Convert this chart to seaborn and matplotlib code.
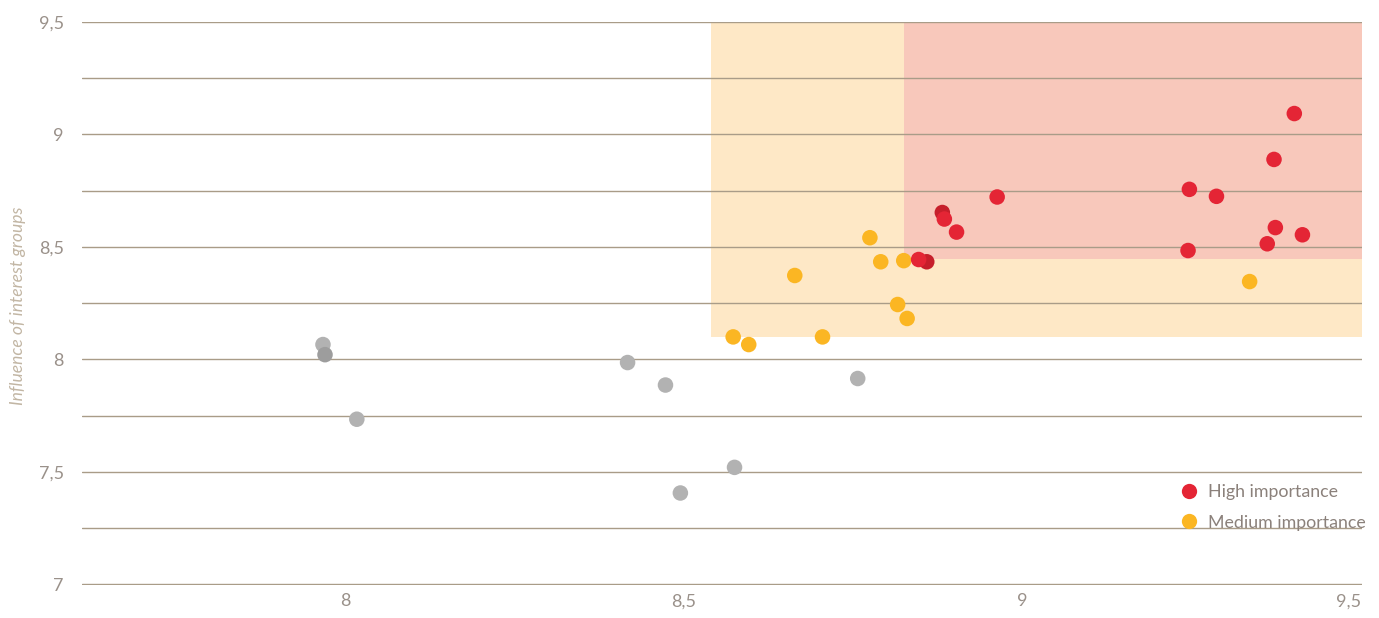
import matplotlib
matplotlib.use("Agg")
import matplotlib.pyplot as plt
from matplotlib.patches import Rectangle
from matplotlib.lines import Line2D
from matplotlib.ticker import FixedLocator, MultipleLocator, FuncFormatter
import pandas as pd
import seaborn as sns

# ---- data -------------------------------------------------------------
# Low importance (grey); the "dark" flag marks points drawn in a deeper tone
low_x = [7.967, 8.017, 8.417, 8.473, 8.495, 8.575, 8.757, 7.970]
low_y = [8.066, 7.734, 7.986, 7.886, 7.406, 7.520, 7.915, 8.021]
low_dark = [0, 0, 0, 0, 0, 0, 0, 1]

medium_x = [8.573, 8.596, 8.664, 8.705, 8.775, 8.791, 8.816, 8.825, 8.830, 9.336]
medium_y = [8.100, 8.066, 8.373, 8.100, 8.541, 8.434, 8.244, 8.439, 8.182, 8.346]
medium_dark = [0] * 10

high_x = [8.882, 8.859, 8.847, 8.885, 8.903, 8.963, 9.245, 9.247,
          9.287, 9.362, 9.372, 9.374, 9.402, 9.414]
high_y = [8.653, 8.434, 8.444, 8.624, 8.566, 8.722, 8.484, 8.756,
          8.725, 8.514, 8.889, 8.586, 9.093, 8.554]
high_dark = [1, 1, 0, 0, 0, 0, 0, 0, 0, 0, 0, 0, 0, 0]

# importance thresholds (x, y) for the shaded zones
MEDIUM_X, MEDIUM_Y = 8.54, 8.10
HIGH_X, HIGH_Y = 8.825, 8.447

X_MIN, X_MAX = 7.611, 9.502
Y_MIN, Y_MAX = 6.997, 9.5

x_ticks = [8, 8.5, 9, 9.5]
y_ticks = [7, 7.5, 8, 8.5, 9, 9.5]

legend_labels = ["High importance", "Medium importance"]
y_label = "Influence of interest groups"

# ---- styling ----------------------------------------------------------
sns.set_theme(style="white")
plt.rcParams["font.family"] = ["Lato", "DejaVu Sans"]

COL = {
    "low-0": "#b2b2b2", "low-1": "#9d9d9d",
    "medium-0": "#fbb623", "medium-1": "#e9a21a",
    "high-0": "#e42535", "high-1": "#c61f2b",
}
GRID = "#a99c88"
TICK_TXT = "#9a918a"
LEG_TXT = "#8b817b"
LABEL_TXT = "#c2b6a4"

frames = []
for name, xs, ys, dk in [("low", low_x, low_y, low_dark),
                         ("medium", medium_x, medium_y, medium_dark),
                         ("high", high_x, high_y, high_dark)]:
    frames.append(pd.DataFrame({
        "x": xs, "y": ys,
        "tone": [f"{name}-{d}" for d in dk],
    }))
df = pd.concat(frames, ignore_index=True)

fig = plt.figure(figsize=(13.79, 6.18), dpi=100)
ax = fig.add_axes([82 / 1379, 1 - 585 / 618, 1280 / 1379, 563 / 618])

# shaded importance zones
ax.add_patch(Rectangle((MEDIUM_X, MEDIUM_Y), X_MAX - MEDIUM_X, Y_MAX - MEDIUM_Y,
                       facecolor="#fee8c6", edgecolor="none", zorder=0.2))
ax.add_patch(Rectangle((HIGH_X, HIGH_Y), X_MAX - HIGH_X, Y_MAX - HIGH_Y,
                       facecolor="#f8c8bb", edgecolor="none", zorder=0.3))

sns.scatterplot(data=df, x="x", y="y", hue="tone", palette=COL,
                s=125, linewidth=0, legend=False, ax=ax, zorder=3)

ax.set_xlim(X_MIN, X_MAX)
ax.set_ylim(Y_MIN, Y_MAX)

fmt = FuncFormatter(lambda v, p: (f"{v:g}").replace(".", ","))
ax.xaxis.set_major_locator(FixedLocator(x_ticks))
ax.yaxis.set_major_locator(FixedLocator(y_ticks))
ax.yaxis.set_minor_locator(MultipleLocator(0.25))
ax.xaxis.set_major_formatter(fmt)
ax.yaxis.set_major_formatter(fmt)

ax.set_axisbelow(True)
ax.grid(False)
ax.yaxis.grid(True, which="both", color=GRID, linewidth=1.0)
for s in ax.spines.values():
    s.set_visible(False)

ax.tick_params(axis="both", which="both", length=0, labelsize=13,
               labelcolor=TICK_TXT)
ax.tick_params(axis="y", pad=13)
ax.tick_params(axis="x", pad=6)

ax.set_xlabel("")
ax.set_ylabel(y_label, fontsize=12.6, style="italic", color=LABEL_TXT)
ax.yaxis.set_label_coords(-0.044, 0.496)

handles = [Line2D([], [], marker="o", linestyle="none", markersize=11,
                  markerfacecolor=COL["high-0"], markeredgewidth=0),
           Line2D([], [], marker="o", linestyle="none", markersize=11,
                  markerfacecolor=COL["medium-0"], markeredgewidth=0)]
leg = ax.legend(handles, legend_labels, loc="center left",
                bbox_to_anchor=(1181 / 1379, 1 - 507.5 / 618),
                bbox_transform=fig.transFigure, frameon=False,
                fontsize=12.8, handlelength=0.95, handletextpad=0.55,
                labelspacing=0.8, borderpad=0, borderaxespad=0)
for t in leg.get_texts():
    t.set_color(LEG_TXT)

# keep the last x label inside the plotting width
fig.canvas.draw()
for tick in ax.xaxis.get_major_ticks():
    loc = tick.get_loc()
    if loc is not None and abs(loc - x_ticks[-1]) < 1e-9:
        tick.label1.set_horizontalalignment("right")

fig.savefig("out.png", dpi=100)
